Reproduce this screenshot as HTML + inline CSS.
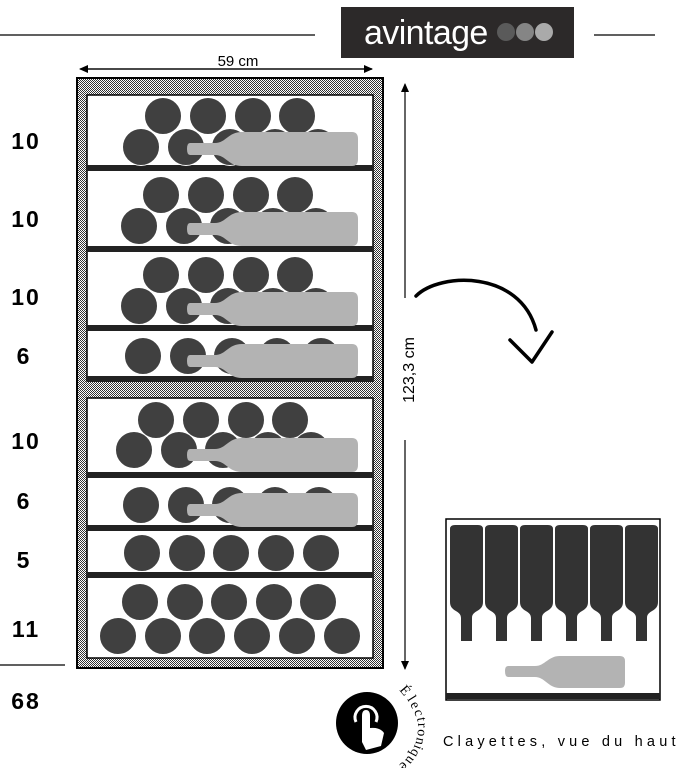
<!DOCTYPE html>
<html><head><meta charset="utf-8"><style>
html,body{margin:0;padding:0;background:#fff;}
svg{display:block;}
text{font-family:"Liberation Sans",sans-serif;}
text.s{font-family:"Liberation Serif",serif;}
</style></head><body>
<svg width="689" height="768" viewBox="0 0 689 768" xmlns="http://www.w3.org/2000/svg">
<defs>
<pattern id="h" width="2" height="2" patternUnits="userSpaceOnUse">
<rect width="2" height="2" fill="#fff"/><rect width="1" height="1" fill="#333"/><rect x="1" y="1" width="1" height="1" fill="#333"/>
</pattern>
<marker id="ar" markerWidth="10" markerHeight="10" refX="8" refY="5" orient="auto" markerUnits="userSpaceOnUse"><path d="M0,1 L9,5 L0,9Z" fill="#000"/></marker>
<g id="b"><path d="M190,-6 L215,-6 C226,-6 228,-17 242,-17 L352,-17 Q358,-17 358,-10 L358,10 Q358,17 352,17 L242,17 C228,17 226,6 215,6 L190,6 Q187,6 187,0 Q187,-6 190,-6Z" fill="#b3b3b3"/></g>
<g id="tb"><path d="M450,529 Q450,525 455,525 L478,525 Q483,525 483,529 L483,602 C483,612 472,610 472,618 L472,641 L461,641 L461,618 C461,610 450,612 450,602Z" fill="#333"/></g>
</defs>

<line x1="0" y1="35" x2="315" y2="35" stroke="#000" stroke-width="1.2"/>
<line x1="594" y1="35" x2="655" y2="35" stroke="#000" stroke-width="1.2"/>
<rect x="341" y="7" width="233" height="51" fill="#2c2929"/>
<text x="364" y="44" font-size="34" fill="#fff" letter-spacing="-0.6">avintage</text>
<circle cx="506" cy="32" r="9" fill="#5a5a5a"/><circle cx="525" cy="32" r="9" fill="#858585"/><circle cx="544" cy="32" r="9" fill="#aaa"/>

<text x="238" y="66" font-size="15" text-anchor="middle">59 cm</text>
<line x1="88" y1="69" x2="372" y2="69" stroke="#000" stroke-width="1.2" marker-end="url(#ar)"/>
<line x1="372" y1="69" x2="80" y2="69" stroke="#000" stroke-width="1.2" marker-end="url(#ar)"/>

<rect x="77" y="78" width="306" height="590" fill="url(#h)" stroke="#000" stroke-width="2"/>
<rect x="87" y="95" width="286" height="286" fill="#fff" stroke="#000" stroke-width="1.5"/>
<rect x="87" y="398" width="286" height="260" fill="#fff" stroke="#000" stroke-width="1.5"/>
<g fill="#222">
<rect x="87" y="165" width="286" height="6"/><rect x="87" y="246" width="286" height="6"/>
<rect x="87" y="325" width="286" height="6"/><rect x="87" y="376" width="286" height="6"/>
<rect x="87" y="472" width="286" height="6"/><rect x="87" y="525" width="286" height="6"/>
<rect x="87" y="572" width="286" height="6"/>
</g>
<g fill="#404040" stroke="#fff" stroke-width="1">
<circle cx="163" cy="116" r="18.5"/><circle cx="208" cy="116" r="18.5"/><circle cx="253" cy="116" r="18.5"/><circle cx="297" cy="116" r="18.5"/>
<circle cx="141" cy="147" r="18.5"/><circle cx="186" cy="147" r="18.5"/><circle cx="230" cy="147" r="18.5"/><circle cx="275" cy="147" r="18.5"/><circle cx="318" cy="147" r="18.5"/>
<circle cx="161" cy="195" r="18.5"/><circle cx="206" cy="195" r="18.5"/><circle cx="251" cy="195" r="18.5"/><circle cx="295" cy="195" r="18.5"/>
<circle cx="139" cy="226" r="18.5"/><circle cx="184" cy="226" r="18.5"/><circle cx="228" cy="226" r="18.5"/><circle cx="273" cy="226" r="18.5"/><circle cx="316" cy="226" r="18.5"/>
<circle cx="161" cy="275" r="18.5"/><circle cx="206" cy="275" r="18.5"/><circle cx="251" cy="275" r="18.5"/><circle cx="295" cy="275" r="18.5"/>
<circle cx="139" cy="306" r="18.5"/><circle cx="184" cy="306" r="18.5"/><circle cx="228" cy="306" r="18.5"/><circle cx="273" cy="306" r="18.5"/><circle cx="316" cy="306" r="18.5"/>
<circle cx="143" cy="356" r="18.5"/><circle cx="188" cy="356" r="18.5"/><circle cx="232" cy="356" r="18.5"/><circle cx="277" cy="356" r="18.5"/><circle cx="321" cy="356" r="18.5"/>
<circle cx="156" cy="420" r="18.5"/><circle cx="201" cy="420" r="18.5"/><circle cx="246" cy="420" r="18.5"/><circle cx="290" cy="420" r="18.5"/>
<circle cx="134" cy="450" r="18.5"/><circle cx="179" cy="450" r="18.5"/><circle cx="223" cy="450" r="18.5"/><circle cx="268" cy="450" r="18.5"/><circle cx="311" cy="450" r="18.5"/>
<circle cx="141" cy="505" r="18.5"/><circle cx="186" cy="505" r="18.5"/><circle cx="230" cy="505" r="18.5"/><circle cx="275" cy="505" r="18.5"/><circle cx="319" cy="505" r="18.5"/>
<circle cx="142" cy="553" r="18.5"/><circle cx="187" cy="553" r="18.5"/><circle cx="231" cy="553" r="18.5"/><circle cx="276" cy="553" r="18.5"/><circle cx="321" cy="553" r="18.5"/>
<circle cx="140" cy="602" r="18.5"/><circle cx="185" cy="602" r="18.5"/><circle cx="229" cy="602" r="18.5"/><circle cx="274" cy="602" r="18.5"/><circle cx="318" cy="602" r="18.5"/>
<circle cx="118" cy="636" r="18.5"/><circle cx="163" cy="636" r="18.5"/><circle cx="207" cy="636" r="18.5"/><circle cx="252" cy="636" r="18.5"/><circle cx="297" cy="636" r="18.5"/><circle cx="342" cy="636" r="18.5"/>
</g>
<use href="#b" transform="translate(0,149)"/>
<use href="#b" transform="translate(0,229)"/>
<use href="#b" transform="translate(0,309)"/>
<use href="#b" transform="translate(0,361)"/>
<use href="#b" transform="translate(0,455)"/>
<use href="#b" transform="translate(0,510)"/>

<g font-size="23" font-weight="bold" letter-spacing="2" text-anchor="middle">
<text x="26" y="149">10</text><text x="26" y="227">10</text><text x="26" y="305">10</text>
<text x="24" y="364">6</text><text x="26" y="449">10</text><text x="24" y="509">6</text>
<text x="24" y="568">5</text><text x="26" y="637">11</text><text x="26" y="709">68</text>
</g>
<line x1="0" y1="665" x2="65" y2="665" stroke="#000" stroke-width="1.2"/>

<line x1="405" y1="298" x2="405" y2="84" stroke="#000" stroke-width="1.2" marker-end="url(#ar)"/>
<line x1="405" y1="440" x2="405" y2="669" stroke="#000" stroke-width="1.2" marker-end="url(#ar)"/>
<text transform="translate(414,370) rotate(-90)" font-size="16" text-anchor="middle">123,3 cm</text>

<path d="M416,296 C440,272 520,270 536,330" fill="none" stroke="#000" stroke-width="3.5" stroke-linecap="round"/>
<path d="M510,340 L532,362 L552,332" fill="none" stroke="#000" stroke-width="3.5" stroke-linecap="round" stroke-linejoin="round"/>

<rect x="446" y="519" width="214" height="181" fill="#fff" stroke="#000" stroke-width="1.5"/>
<rect x="446" y="693" width="214" height="6" fill="#222"/>
<use href="#tb"/><use href="#tb" x="35"/><use href="#tb" x="70"/><use href="#tb" x="105"/><use href="#tb" x="140"/><use href="#tb" x="175"/>
<path d="M508,666 L535,666 C545,666 548,656 560,656 L620,656 Q625,656 625,661 L625,683 Q625,688 620,688 L560,688 C548,688 545,677 535,677 L508,677 Q505,677 505,671 Q505,666 508,666Z" fill="#b3b3b3"/>

<circle cx="367" cy="723" r="31" fill="#000"/>
<path d="M356,722 a11,11 0 1 1 20,0" fill="none" stroke="#fff" stroke-width="3"/>
<path d="M362,742 L362,716 Q362,710 366,710 Q370,710 370,716 L370,728 Q380,727 384,733 L381,746 L366,750Z" fill="#fff"/>
<g font-size="14">
<text class="s" transform="translate(399,690) rotate(50)">É</text>
<text class="s" transform="translate(407,699) rotate(58)">l</text>
<text class="s" transform="translate(410,704) rotate(64)">e</text>
<text class="s" transform="translate(414,711) rotate(72)">c</text>
<text class="s" transform="translate(417,718) rotate(80)">t</text>
<text class="s" transform="translate(418,723) rotate(88)">r</text>
<text class="s" transform="translate(418,729) rotate(95)">o</text>
<text class="s" transform="translate(417,737) rotate(103)">n</text>
<text class="s" transform="translate(415,744) rotate(112)">i</text>
<text class="s" transform="translate(413,748) rotate(118)">q</text>
<text class="s" transform="translate(409,755) rotate(127)">u</text>
<text class="s" transform="translate(403,761) rotate(135)">e</text>
</g>
<text x="443" y="746" font-size="14.5" letter-spacing="4.2">Clayettes, vue du haut</text>
</svg>
</body></html>
